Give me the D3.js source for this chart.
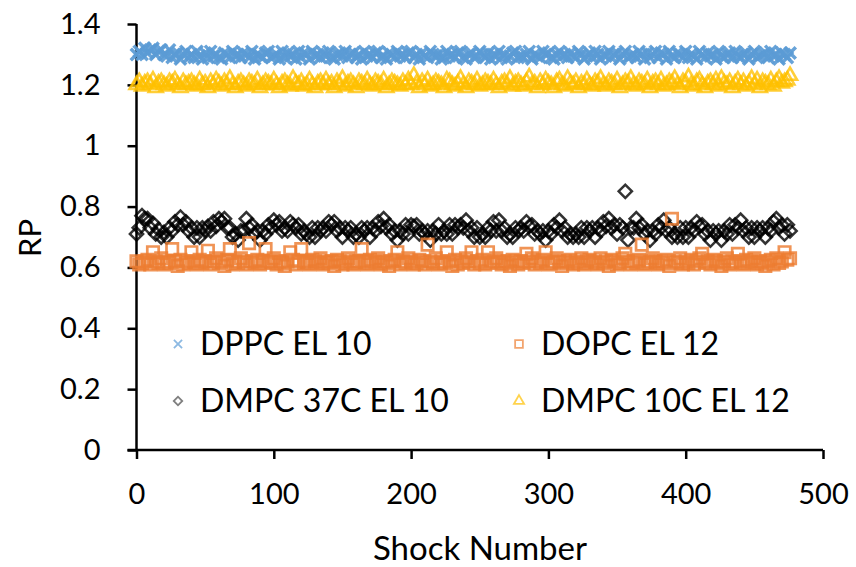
<!DOCTYPE html>
<html><head><meta charset="utf-8">
<script src="https://cdn.jsdelivr.net/npm/d3@7"></script>
<style>
html,body{margin:0;padding:0;background:#fff;}
text{font-family:Lato,"Open Sans",sans-serif;fill:#000;}
</style></head>
<body><svg id="c" width="856" height="567"></svg>
<script>
// Shock numbers sampled every 2nd shock
const shocks = d3.range(0, 478, 2);
const seriesNames = ["DPPC EL 10", "DOPC EL 12", "DMPC 37C EL 10", "DMPC 10C EL 12"];
const xTicks = [0, 100, 200, 300, 400, 500];
const yTicks = [0, 0.2, 0.4, 0.6, 0.8, 1, 1.2, 1.4];

const dppc = [
1.30,1.31,1.30,1.32,1.305,1.315,1.32,1.30,1.31,1.315,
1.30,1.295,1.315,1.29,1.30,1.305,1.285,1.30,1.31,1.29,
1.30,1.29,1.31,1.295,1.285,1.305,1.29,1.31,1.295,1.30,
1.29,1.285,1.305,1.30,1.29,1.31,1.295,1.30,1.29,1.305,
1.30,1.29,1.31,1.285,1.30,1.295,1.29,1.305,1.31,1.29,
1.295,1.30,1.285,1.31,1.29,1.305,1.295,1.30,1.285,1.31,
1.29,1.305,1.30,1.285,1.31,1.295,1.30,1.29,1.305,1.295,
1.31,1.29,1.285,1.30,1.305,1.295,1.31,1.29,1.30,1.305,
1.29,1.30,1.285,1.31,1.295,1.30,1.29,1.305,1.31,1.29,
1.295,1.285,1.305,1.30,1.29,1.31,1.295,1.30,1.29,1.305,
1.31,1.29,1.30,1.285,1.305,1.295,1.29,1.31,1.30,1.295,
1.30,1.285,1.29,1.31,1.295,1.30,1.29,1.305,1.31,1.29,
1.285,1.30,1.305,1.29,1.295,1.31,1.30,1.29,1.305,1.285,
1.30,1.295,1.31,1.29,1.30,1.285,1.295,1.305,1.31,1.29,
1.295,1.29,1.30,1.31,1.285,1.30,1.295,1.29,1.31,1.30,
1.305,1.29,1.285,1.30,1.31,1.295,1.30,1.29,1.305,1.295,
1.29,1.31,1.30,1.285,1.295,1.305,1.29,1.31,1.30,1.285,
1.30,1.295,1.31,1.29,1.30,1.305,1.285,1.30,1.31,1.29,
1.295,1.30,1.29,1.31,1.30,1.285,1.305,1.29,1.30,1.31,
1.29,1.305,1.30,1.285,1.31,1.295,1.29,1.305,1.30,1.29,
1.31,1.29,1.30,1.295,1.285,1.31,1.30,1.29,1.305,1.295,
1.30,1.285,1.31,1.295,1.29,1.30,1.305,1.29,1.31,1.295,
1.29,1.30,1.305,1.285,1.30,1.31,1.29,1.295,1.30,1.305,
1.29,1.31,1.295,1.30,1.285,1.305,1.30,1.29,1.305];

const dopc = [
0.62,0.61,0.615,0.62,0.625,0.61,0.65,0.62,0.615,0.63,
0.61,0.62,0.615,0.66,0.62,0.605,0.625,0.61,0.62,0.615,
0.65,0.62,0.61,0.625,0.615,0.62,0.655,0.61,0.62,0.63,
0.615,0.62,0.605,0.625,0.66,0.61,0.62,0.615,0.63,0.62,
0.61,0.68,0.62,0.615,0.625,0.61,0.62,0.66,0.615,0.62,
0.63,0.61,0.62,0.615,0.605,0.62,0.65,0.625,0.61,0.62,
0.66,0.615,0.62,0.61,0.625,0.62,0.615,0.63,0.61,0.62,
0.615,0.62,0.605,0.625,0.62,0.61,0.615,0.63,0.62,0.61,
0.62,0.615,0.66,0.62,0.61,0.625,0.615,0.62,0.63,0.61,
0.62,0.615,0.605,0.62,0.625,0.65,0.61,0.62,0.615,0.63,
0.62,0.61,0.615,0.625,0.62,0.61,0.675,0.62,0.615,0.63,
0.61,0.62,0.615,0.65,0.62,0.605,0.625,0.61,0.62,0.615,
0.63,0.62,0.65,0.61,0.62,0.615,0.625,0.61,0.65,0.62,
0.615,0.63,0.62,0.61,0.62,0.615,0.605,0.625,0.62,0.61,
0.62,0.615,0.645,0.62,0.63,0.61,0.62,0.615,0.625,0.65,
0.61,0.62,0.615,0.63,0.62,0.605,0.62,0.615,0.625,0.61,
0.62,0.615,0.63,0.61,0.62,0.625,0.615,0.62,0.61,0.63,
0.615,0.62,0.605,0.625,0.62,0.61,0.615,0.63,0.645,0.62,
0.61,0.62,0.615,0.625,0.675,0.61,0.62,0.615,0.63,0.62,
0.61,0.62,0.615,0.625,0.605,0.76,0.62,0.615,0.63,0.61,
0.62,0.615,0.625,0.61,0.62,0.63,0.645,0.615,0.62,0.61,
0.625,0.62,0.615,0.605,0.62,0.63,0.61,0.62,0.615,0.645,
0.62,0.61,0.625,0.615,0.62,0.63,0.61,0.62,0.615,0.605,
0.62,0.625,0.61,0.63,0.615,0.62,0.65,0.625,0.63];

const dmpc37 = [
0.71,0.73,0.77,0.76,
0.76,0.73,0.745,0.71,0.725,0.70,0.715,0.70,0.73,0.72,0.75,0.74,0.765,
0.74,0.75,0.72,0.73,0.70,0.73,0.70,0.73,0.72,0.735,0.72,0.75,0.735,0.76,0.75,
0.76,0.73,0.73,0.70,0.71,0.69,0.72,0.72,0.76,
0.73,0.74,0.71,0.72,0.69,0.72,0.71,0.74,0.73,0.755,0.74,
0.75,0.72,0.73,0.72,0.75,0.74,
0.73,0.74,0.71,0.72,0.71,0.70,0.73,0.70,0.73,0.72,0.73,0.72,0.75,0.74,
0.75,0.72,0.73,0.70,0.73,0.72,0.73,0.70,0.71,0.70,0.73,0.72,0.73,0.70,0.73,0.72,0.75,0.735,0.76,
0.73,0.74,0.71,0.72,0.69,0.72,0.71,0.74,0.71,0.74,0.735,
0.74,0.71,0.72,0.71,0.72,0.69,0.72,0.71,0.74,0.71,0.72,0.71,0.74,0.71,0.74,0.73,0.74,0.73,0.755,
0.72,0.73,0.70,0.73,0.70,0.71,0.70,0.73,0.72,0.75,0.72,0.755,
0.72,0.73,0.70,0.71,0.70,0.73,0.72,0.73,0.72,0.75,0.735,
0.74,0.71,0.72,0.71,0.72,0.69,0.72,0.71,0.74,0.73,0.755,
0.72,0.73,0.70,0.71,0.70,0.71,0.70,0.73,0.70,0.73,0.72,0.73,0.70,0.73,0.72,0.75,0.735,0.76,
0.73,0.74,0.71,0.74,0.73,
0.85,0.69,
0.73,0.73,0.76,
0.73,0.74,0.71,0.72,0.69,0.72,0.71,0.74,0.73,0.755,
0.72,0.73,0.70,0.71,0.70,0.73,0.70,0.73,0.70,0.73,0.72,0.75,0.735,
0.74,0.71,0.72,0.69,0.72,0.71,0.72,0.69,0.72,0.71,0.74,0.71,0.74,0.73,0.755,
0.72,0.73,0.70,0.73,0.70,0.73,0.72,0.73,0.70,0.73,0.72,0.75,0.76,
0.73,0.74,0.71,0.74,0.72];

const dmpc10 = [
1.20,1.21,1.195,1.205,1.21,1.20,1.215,1.19,1.205,1.21,
1.20,1.195,1.21,1.205,1.215,1.20,1.19,1.21,1.20,1.205,
1.21,1.20,1.195,1.215,1.20,1.205,1.19,1.21,1.20,1.215,
1.205,1.195,1.21,1.20,1.22,1.20,1.19,1.205,1.21,1.20,
1.195,1.21,1.205,1.20,1.215,1.19,1.20,1.21,1.205,1.20,
1.215,1.20,1.19,1.205,1.21,1.20,1.195,1.22,1.205,1.20,
1.21,1.195,1.20,1.215,1.20,1.19,1.205,1.21,1.20,1.215,
1.20,1.205,1.19,1.21,1.20,1.22,1.195,1.205,1.21,1.20,
1.19,1.21,1.205,1.20,1.215,1.20,1.195,1.21,1.205,1.20,
1.215,1.19,1.20,1.21,1.205,1.20,1.195,1.21,1.20,1.215,
1.20,1.23,1.205,1.19,1.21,1.20,1.215,1.195,1.20,1.21,
1.205,1.20,1.19,1.215,1.21,1.20,1.195,1.205,1.22,1.20,
1.19,1.21,1.205,1.20,1.215,1.195,1.20,1.21,1.205,1.20,
1.215,1.20,1.19,1.205,1.21,1.20,1.22,1.195,1.205,1.21,
1.20,1.195,1.21,1.225,1.20,1.205,1.19,1.21,1.20,1.215,
1.205,1.20,1.19,1.21,1.215,1.20,1.195,1.22,1.205,1.20,
1.21,1.19,1.205,1.20,1.215,1.20,1.195,1.21,1.205,1.22,
1.20,1.195,1.21,1.205,1.20,1.215,1.19,1.20,1.21,1.205,
1.22,1.20,1.195,1.21,1.205,1.20,1.215,1.19,1.205,1.21,
1.20,1.215,1.195,1.20,1.21,1.205,1.22,1.20,1.19,1.21,
1.205,1.225,1.20,1.195,1.21,1.215,1.20,1.19,1.205,1.21,
1.20,1.215,1.195,1.22,1.205,1.20,1.21,1.19,1.205,1.215,
1.20,1.21,1.195,1.205,1.22,1.20,1.215,1.19,1.21,1.205,
1.20,1.215,1.195,1.21,1.22,1.205,1.21,1.215,1.23];

const svg = d3.select("#c");
const x = d3.scaleLinear().domain([0, 500]).range([136.5, 823]);
const y = d3.scaleLinear().domain([0, 1.4]).range([450, 24]);

// axes
const gx = svg.append("g").attr("transform", "translate(0,450)")
  .call(d3.axisBottom(x).tickValues(xTicks).tickSize(9).tickPadding(24).tickFormat(d3.format("d")));
const gy = svg.append("g").attr("transform", "translate(136.5,0)")
  .call(d3.axisLeft(y).tickValues(yTicks).tickSize(9).tickPadding(27).tickFormat(d => String(+d.toFixed(1))));
[gx, gy].forEach(g => {
  g.select(".domain").attr("stroke", "#000").attr("stroke-width", 2.5);
  g.selectAll(".tick line").attr("stroke", "#000").attr("stroke-width", 2.5);
  g.selectAll(".tick text").style("font-size", "29px").style("font-family", "Lato, sans-serif").attr("fill", "#000");
});
gx.select(".domain").attr("d", "M127.5,0H823");
gy.select(".domain").attr("d", "M0,24V450");

// axis titles
svg.append("text").attr("x", 480).attr("y", 560).attr("text-anchor", "middle")
  .style("font-size", "33px").text("Shock Number");
svg.append("text").attr("transform", "translate(41,238) rotate(-90)").attr("text-anchor", "middle")
  .style("font-size", "31px").text("RP");

const sym = {
  cross: d3.symbol().type(d3.symbolX).size(88),
  square: d3.symbol().type(d3.symbolSquare).size(130),
  diamond: d3.symbol().type(d3.symbolSquare).size(88),
  triangle: d3.symbol().type(d3.symbolTriangle).size(85)
};
const series = [
  {vals: dppc, col: "#5B9BD5", s: sym.cross, rot: 0, sw: 3.5, op: 0.92},
  {vals: dopc, col: "#ED7D31", s: sym.square, rot: 0, sw: 2.7, op: 0.82},
  {vals: dmpc37, col: "#000000", s: sym.diamond, rot: 45, sw: 2.5, op: 0.8},
  {vals: dmpc10, col: "#FFC000", s: sym.triangle, rot: 0, sw: 2.6, op: 0.78}
];
const drawOrder = [3, 0, 2, 1];
drawOrder.forEach(k => {
  const se = series[k];
  svg.append("g").selectAll("path").data(se.vals).join("path")
    .attr("d", se.s)
    .attr("transform", (d, i) => `translate(${x(shocks[i])},${y(d)}) rotate(${se.rot})`)
    .attr("fill", "none").attr("stroke", se.col).attr("stroke-width", se.sw).attr("stroke-opacity", se.op);
});

// legend
const leg = [
  {k: 0, lx: 178, ly: 344},
  {k: 1, lx: 519, ly: 344},
  {k: 2, lx: 178, ly: 401},
  {k: 3, lx: 519, ly: 401}
];
const legSym = [d3.symbol().type(d3.symbolX).size(45), d3.symbol().type(d3.symbolSquare).size(60),
  d3.symbol().type(d3.symbolSquare).size(36), d3.symbol().type(d3.symbolTriangle).size(45)];
leg.forEach(l => {
  const se = series[l.k];
  svg.append("path").attr("d", legSym[l.k])
    .attr("transform", `translate(${l.lx},${l.ly}) rotate(${se.rot})`)
    .attr("fill", "none").attr("stroke", se.col).attr("stroke-width", 1.8).attr("stroke-opacity", l.k === 2 ? 0.5 : 0.7);
  svg.append("text").attr("x", l.lx + 22).attr("y", l.ly).attr("dy", "0.35em")
    .style("font-size", "32px").text(seriesNames[l.k]);
});
</script></body></html>
